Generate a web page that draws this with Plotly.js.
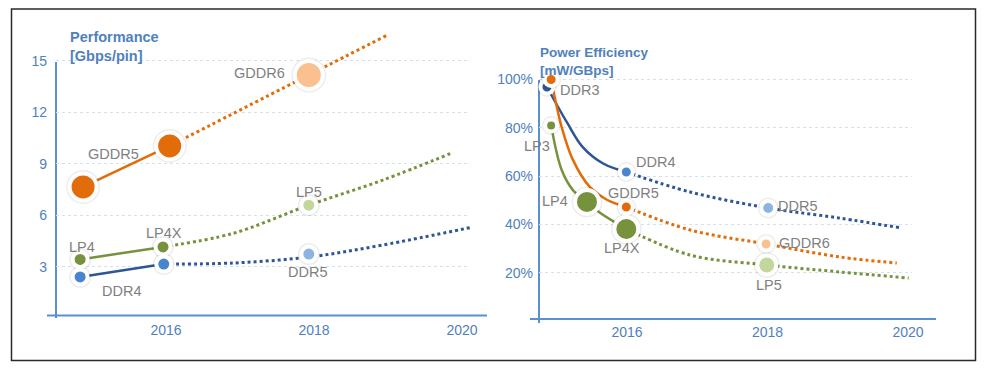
<!DOCTYPE html>
<html>
<head>
<meta charset="utf-8">
<script src="https://cdn.plot.ly/plotly-3.0.1.min.js"></script>
<style>html,body{margin:0;padding:0;background:#fff;}#chart{width:987px;height:369px;}</style>
</head>
<body>
<div id="chart"></div>
<script>
// ---------- Performance [Gbps/pin] ----------
const perfTickYears = [2016, 2018, 2020];
const perfTickValues = [3, 6, 9, 12, 15];

const gddrPerfSolidX = [2014.88, 2016.05];
const gddrPerfSolidY = [7.66, 10.05];
const gddrPerfDotX = [2016.05, 2017.93, 2018.99];
const gddrPerfDotY = [10.05, 14.18, 16.5];

const lpPerfSolidX = [2014.84, 2015.96];
const lpPerfSolidY = [3.44, 4.17];
const lpPerfDotX = [2015.96, 2016.9, 2017.93, 2018.93, 2019.84];
const lpPerfDotY = [4.17, 4.95, 6.6, 8.06, 9.6];

const ddrPerfSolidX = [2014.84, 2015.97];
const ddrPerfSolidY = [2.42, 3.17];
const ddrPerfDotX = [2015.97, 2016.9, 2017.93, 2018.93, 2020.15];
const ddrPerfDotY = [3.17, 3.23, 3.58, 4.28, 5.33];

const gddr5PerfX = [2014.88, 2016.05];
const gddr5PerfY = [7.66, 10.05];
const gddr6PerfX = [2017.93];
const gddr6PerfY = [14.18];
const lp4PerfX = [2014.84, 2015.96];
const lp4PerfY = [3.44, 4.17];
const lp5PerfX = [2017.93];
const lp5PerfY = [6.6];
const ddr4PerfX = [2014.84, 2015.97];
const ddr4PerfY = [2.42, 3.17];
const ddr5PerfX = [2017.93];
const ddr5PerfY = [3.75];

// ---------- Power Efficiency [mW/GBps] ----------
const powTickYears = [2016, 2018, 2020];
const powTickValues = [20, 40, 60, 80, 100];
const powTickLabels = ['20%', '40%', '60%', '80%', '100%'];

const ddrPowSolidX = [2014.86, 2015.15, 2015.37, 2015.66, 2015.99];
const ddrPowSolidY = [96.9, 82, 72, 65.2, 61.7];
const ddrPowDotX = [2015.99, 2016.9, 2018.01, 2019.03, 2019.91];
const ddrPowDotY = [61.7, 53.4, 46.8, 42.6, 38.5];

const gddrPowSolidX = [2014.92, 2015.07, 2015.23, 2015.47, 2015.72, 2015.99];
const gddrPowSolidY = [100, 80.3, 66.7, 55.5, 50.1, 47.2];
const gddrPowDotX = [2015.99, 2016.9, 2017.98, 2019.03, 2019.84];
const gddrPowDotY = [47.2, 37.7, 31.9, 26.5, 24];

const lpPowSolidX = [2014.92, 2015.07, 2015.23, 2015.43, 2015.62, 2015.99];
const lpPowSolidY = [81, 62.5, 54.2, 49.3, 44.7, 38.1];
const lpPowDotX = [2015.99, 2016.9, 2017.99, 2019.03, 2020.01];
const lpPowDotY = [38.1, 27.3, 23.2, 20.3, 17.8];

const ddr3PowX = [2014.86];
const ddr3PowY = [96.9];
const gddr5PowX = [2014.92, 2015.99];
const gddr5PowY = [100, 47.2];
const lp3PowX = [2014.92];
const lp3PowY = [81];
const lp4PowX = [2015.43, 2015.99];
const lp4PowY = [49.3, 38.1];
const ddr4PowX = [2015.99];
const ddr4PowY = [61.7];
const ddr5PowX = [2018.01];
const ddr5PowY = [46.8];
const gddr6PowX = [2017.98];
const gddr6PowY = [31.9];
const lp5PowX = [2017.99];
const lp5PowY = [23.2];

// ---------- styling ----------
const ORANGE = '#e36c0a', LORANGE = '#fac090';
const GREEN = '#76923c', LGREEN = '#c3d69b';
const BLUE = '#4a84cf', DBLUE = '#2f5597', LBLUE = '#8db3e2';
const AXIS = '#5b8fd0', TICK = '#4f81bd', LABEL = '#7f7f7f';
const FONT = 'Liberation Sans, Arial, sans-serif';

function line(x, y, color, dotted, xa, ya, w) {
  return {x: x, y: y, xaxis: xa, yaxis: ya, mode: 'lines', hoverinfo: 'skip',
    line: {color: color, width: w || (dotted ? 3 : 2.5), dash: dotted ? 'dot' : 'solid', shape: 'spline', smoothing: 1}};
}
function shadow(x, y, size, xa, ya) {
  return {x: x, y: y, xaxis: xa, yaxis: ya, mode: 'markers', hoverinfo: 'skip', cliponaxis: false,
    marker: {size: size + 7, color: 'rgba(0,0,0,0.07)', line: {width: 0}}};
}
function dots(x, y, color, size, xa, ya) {
  return {x: x, y: y, xaxis: xa, yaxis: ya, mode: 'markers', cliponaxis: false,
    marker: {size: size, color: color, line: {color: '#ffffff', width: 4}}};
}

const traces = [
  line(gddrPerfSolidX, gddrPerfSolidY, ORANGE, false, 'x', 'y'),
  line(gddrPerfDotX, gddrPerfDotY, ORANGE, true, 'x', 'y'),
  line(lpPerfSolidX, lpPerfSolidY, GREEN, false, 'x', 'y'),
  line(lpPerfDotX, lpPerfDotY, GREEN, true, 'x', 'y'),
  line(ddrPerfSolidX, ddrPerfSolidY, DBLUE, false, 'x', 'y'),
  line(ddrPerfDotX, ddrPerfDotY, DBLUE, true, 'x', 'y'),
  shadow(gddr5PerfX, gddr5PerfY, 27, 'x', 'y'),
  shadow(gddr6PerfX, gddr6PerfY, 28, 'x', 'y'),
  shadow(lp4PerfX, lp4PerfY, 15, 'x', 'y'),
  shadow(lp5PerfX, lp5PerfY, 15, 'x', 'y'),
  shadow(ddr4PerfX, ddr4PerfY, 15, 'x', 'y'),
  shadow(ddr5PerfX, ddr5PerfY, 15, 'x', 'y'),
  dots(gddr5PerfX, gddr5PerfY, ORANGE, 27, 'x', 'y'),
  dots(gddr6PerfX, gddr6PerfY, LORANGE, 28, 'x', 'y'),
  dots(lp4PerfX, lp4PerfY, GREEN, 15, 'x', 'y'),
  dots(lp5PerfX, lp5PerfY, LGREEN, 15, 'x', 'y'),
  dots(ddr4PerfX, ddr4PerfY, BLUE, 15, 'x', 'y'),
  dots(ddr5PerfX, ddr5PerfY, LBLUE, 15, 'x', 'y'),

  line(ddrPowSolidX, ddrPowSolidY, DBLUE, false, 'x2', 'y2'),
  line(ddrPowDotX, ddrPowDotY, DBLUE, true, 'x2', 'y2'),
  line(gddrPowSolidX, gddrPowSolidY, ORANGE, false, 'x2', 'y2'),
  line(gddrPowDotX, gddrPowDotY, ORANGE, true, 'x2', 'y2'),
  line(lpPowSolidX, lpPowSolidY, GREEN, false, 'x2', 'y2'),
  line(lpPowDotX, lpPowDotY, GREEN, true, 'x2', 'y2'),
  shadow(ddr3PowX, ddr3PowY, 13, 'x2', 'y2'),
  dots(ddr3PowX, ddr3PowY, DBLUE, 13, 'x2', 'y2'),
  shadow(gddr5PowX, gddr5PowY, 13, 'x2', 'y2'),
  shadow(lp3PowX, lp3PowY, 12, 'x2', 'y2'),
  shadow(lp4PowX, lp4PowY, 24, 'x2', 'y2'),
  shadow(ddr4PowX, ddr4PowY, 13, 'x2', 'y2'),
  shadow(ddr5PowX, ddr5PowY, 14, 'x2', 'y2'),
  shadow(gddr6PowX, gddr6PowY, 13, 'x2', 'y2'),
  shadow(lp5PowX, lp5PowY, 19, 'x2', 'y2'),
  dots(gddr5PowX, gddr5PowY, ORANGE, 13, 'x2', 'y2'),
  dots(lp3PowX, lp3PowY, GREEN, 12, 'x2', 'y2'),
  dots(lp4PowX, lp4PowY, GREEN, 24, 'x2', 'y2'),
  dots(ddr4PowX, ddr4PowY, BLUE, 13, 'x2', 'y2'),
  dots(ddr5PowX, ddr5PowY, LBLUE, 14, 'x2', 'y2'),
  dots(gddr6PowX, gddr6PowY, LORANGE, 13, 'x2', 'y2'),
  dots(lp5PowX, lp5PowY, LGREEN, 19, 'x2', 'y2')
];

const W = 987, H = 369;
const px = v => v / W;
const py = v => 1 - v / H;

function lab(xa, ya, x, y, text, dx, dy) {
  return {xref: xa, yref: ya, x: x, y: y, text: text, showarrow: false,
    xshift: dx, yshift: dy, font: {family: FONT, size: 14.5, color: LABEL}};
}

const annotations = [
  {xref: 'paper', yref: 'paper', x: px(68), y: py(27), xanchor: 'left', yanchor: 'top', align: 'left', showarrow: false,
   text: '<b>Performance<br>[Gbps/pin]</b>', font: {family: FONT, size: 14.5, color: TICK}},
  {xref: 'paper', yref: 'paper', x: px(538), y: py(43), xanchor: 'left', yanchor: 'top', align: 'left', showarrow: false,
   text: '<b>Power Efficiency<br>[mW/GBps]</b>', font: {family: FONT, size: 13.5, color: TICK}},
  lab('x', 'y', gddr5PerfX[0], gddr5PerfY[0], 'GDDR5', 30, 33),
  lab('x', 'y', gddr6PerfX[0], gddr6PerfY[0], 'GDDR6', -49, 2),
  lab('x', 'y', lp5PerfX[0], lp5PerfY[0], 'LP5', 0, 13),
  lab('x', 'y', lp4PerfX[1], lp4PerfY[1], 'LP4X', 1, 14),
  lab('x', 'y', lp4PerfX[0], lp4PerfY[0], 'LP4', 2, 12),
  lab('x', 'y', ddr4PerfX[0], ddr4PerfY[0], 'DDR4', 41, -14),
  lab('x', 'y', ddr5PerfX[0], ddr5PerfY[0], 'DDR5', -1, -18),
  lab('x2', 'y2', ddr3PowX[0], ddr3PowY[0], 'DDR3', 33, -3),
  lab('x2', 'y2', ddr4PowX[0], ddr4PowY[0], 'DDR4', 29, 10),
  lab('x2', 'y2', gddr5PowX[1], gddr5PowY[1], 'GDDR5', 7, 14),
  lab('x2', 'y2', lp4PowX[0], lp4PowY[0], 'LP4', -32, 1),
  lab('x2', 'y2', lp3PowX[0], lp3PowY[0], 'LP3', -14, -21),
  lab('x2', 'y2', lp4PowX[1], lp4PowY[1], 'LP4X', -4, -19),
  lab('x2', 'y2', ddr5PowX[0], ddr5PowY[0], 'DDR5', 29, 2),
  lab('x2', 'y2', gddr6PowX[0], gddr6PowY[0], 'GDDR6', 38, 1),
  lab('x2', 'y2', lp5PowX[0], lp5PowY[0], 'LP5', 2, -20)
];

function seg(x0, y0, x1, y1, color, w) {
  return {type: 'line', xref: 'paper', yref: 'paper', x0: px(x0), y0: py(y0), x1: px(x1), y1: py(y1),
    line: {color: color, width: w}, layer: 'below'};
}
const shapes = [
  {type: 'rect', xref: 'paper', yref: 'paper', x0: px(11.5), y0: py(360.5), x1: px(975.5), y1: py(9),
   line: {color: '#2a2a2a', width: 1.5}},
  seg(47, 315.5, 487, 315.5, AXIS, 2),
  seg(56, 62, 56, 318, AXIS, 2),
  seg(530, 319, 936, 319, AXIS, 2),
  seg(539, 80, 539, 323, AXIS, 2)
];

const tickFont = {family: FONT, size: 14, color: TICK};
const layout = {
  width: W, height: H,
  margin: {l: 0, r: 0, t: 0, b: 0},
  paper_bgcolor: '#ffffff', plot_bgcolor: 'rgba(0,0,0,0)',
  showlegend: false,
  xaxis: {domain: [px(56), px(470)], range: [2014.514, 2020.108], tickvals: perfTickYears, tickformat: 'd',
    showgrid: false, zeroline: false, showline: false, ticks: '', tickfont: tickFont, ticklabelstandoff: -2},
  yaxis: {domain: [py(322), py(30)], range: [-0.204, 16.80], tickvals: perfTickValues,
    showgrid: true, gridcolor: '#d6e0ee', griddash: 'dot', gridwidth: 1, zeroline: false, showline: false,
    ticks: '', tickfont: tickFont, ticklabelstandoff: 8},
  xaxis2: {domain: [px(539), px(912)], range: [2014.747, 2020.057], tickvals: powTickYears, tickformat: 'd', anchor: 'y2',
    showgrid: false, zeroline: false, showline: false, ticks: '', tickfont: tickFont, ticklabelstandoff: -1},
  yaxis2: {domain: [py(323), py(60)], range: [-0.83, 108.07], tickmode: 'array', tickvals: powTickValues, ticktext: powTickLabels, anchor: 'x2',
    showgrid: true, gridcolor: '#d6e0ee', griddash: 'dot', gridwidth: 1, zeroline: false, showline: false,
    ticks: '', tickfont: tickFont, ticklabelstandoff: 5},
  annotations: annotations,
  shapes: shapes,
  font: {family: FONT}
};

Plotly.newPlot('chart', traces, layout, {staticPlot: true, displayModeBar: false});
</script>
</body>
</html>
